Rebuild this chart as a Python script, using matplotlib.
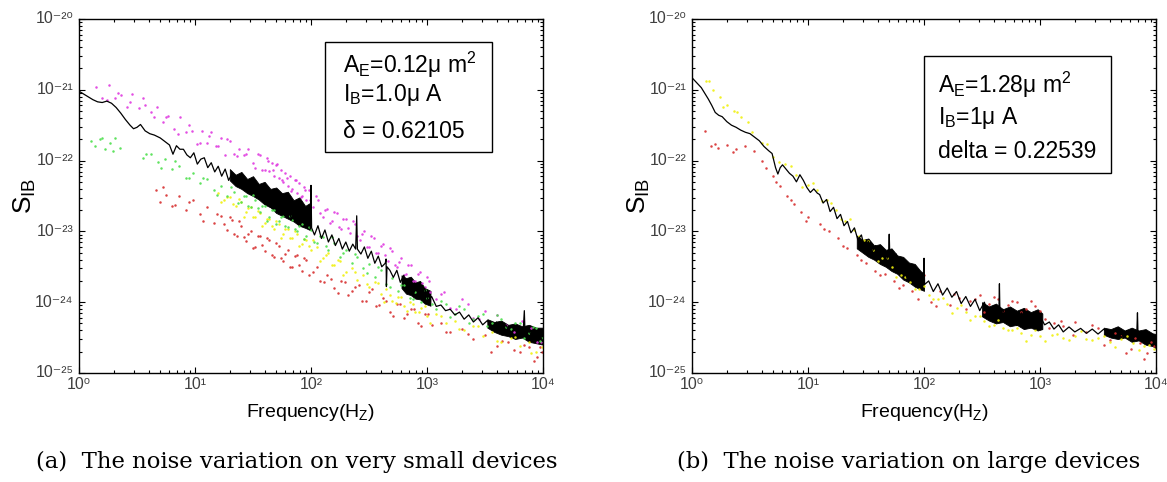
import matplotlib
matplotlib.use("Agg")
import matplotlib.pyplot as plt
import numpy as np
from matplotlib.patches import Rectangle
from matplotlib.ticker import LogLocator, NullFormatter, FuncFormatter

plt.rcParams["font.family"] = ["Liberation Sans", "DejaVu Sans"]
plt.rcParams["mathtext.fontset"] = "custom"
plt.rcParams["mathtext.rm"] = "Liberation Sans"
plt.rcParams["mathtext.it"] = "Liberation Sans:italic"

# values are log10(frequency) and log10(S_IB)

# ---- panel (a): very small device ----
a_line_lf = [0.00, 0.04, 0.08, 0.12, 0.16, 0.20, 0.24, 0.28, 0.32, 0.36, 0.40, 0.44, 0.47, 0.50, 0.53,
             0.57, 0.61, 0.65, 0.70, 0.74, 0.78, 0.81, 0.84, 0.87, 0.90, 0.93, 0.96, 0.99, 1.02, 1.05,
             1.08, 1.11, 1.14, 1.17, 1.20, 1.23, 1.26, 1.29, 1.32, 1.35, 1.38, 1.41, 1.44, 1.47, 1.50,
             1.53, 1.56, 1.59, 1.62, 1.65, 1.68, 1.71, 1.74, 1.77, 1.80, 1.83, 1.86, 1.89, 1.92, 1.95,
             1.98, 1.995, 2.000, 2.005, 2.03, 2.06, 2.09, 2.12, 2.15, 2.18, 2.21, 2.24, 2.27, 2.30, 2.33,
             2.36, 2.385, 2.394, 2.40, 2.43, 2.46, 2.49, 2.52, 2.55, 2.58, 2.61, 2.64, 2.647, 2.65, 2.655,
             2.68, 2.71, 2.74, 2.77, 2.80, 2.83, 2.86, 2.89, 2.92, 2.95, 2.98, 3.01, 3.04, 3.08, 3.12,
             3.16, 3.20, 3.24, 3.28, 3.32, 3.36, 3.40, 3.44, 3.48, 3.52, 3.56, 3.60, 3.64, 3.68, 3.72,
             3.76, 3.80, 3.83, 3.839, 3.845, 3.88, 3.92, 3.96, 4.00]
a_line_ls = [-21.02, -21.06, -21.10, -21.14, -21.17, -21.18, -21.16, -21.19, -21.25, -21.33, -21.42, -21.50, -21.55, -21.53, -21.49,
             -21.58, -21.62, -21.64, -21.68, -21.73, -21.78, -21.91, -21.79, -21.84, -21.84, -21.92, -21.96, -21.89, -22.05, -21.98,
             -21.96, -22.10, -22.03, -22.16, -22.08, -22.22, -22.12, -22.28, -22.18, -22.34, -22.22, -22.40, -22.27, -22.46, -22.31,
             -22.52, -22.38, -22.58, -22.42, -22.66, -22.47, -22.72, -22.52, -22.78, -22.58, -22.84, -22.64, -22.88, -22.70, -22.94,
             -22.78, -22.96, -22.35, -22.95, -23.05, -22.92, -23.10, -22.98, -23.15, -23.05, -23.20, -23.10, -23.25, -23.15, -23.28,
             -23.18, -23.25, -22.78, -23.25, -23.32, -23.22, -23.38, -23.28, -23.45, -23.35, -23.50, -23.45, -23.39, -23.78, -23.50,
             -23.55, -23.65, -23.55, -23.72, -23.62, -23.80, -23.68, -23.86, -23.74, -23.92, -23.80, -23.98, -23.92, -24.06, -24.04,
             -24.12, -24.10, -24.18, -24.14, -24.24, -24.18, -24.28, -24.22, -24.32, -24.26, -24.36, -24.28, -24.40, -24.32, -24.45,
             -24.35, -24.48, -24.38, -24.12, -24.45, -24.40, -24.56, -24.45, -24.55]

# dense parts of the black trace: upper and lower edge
a_band_lf = [[1.30, 1.35, 1.40, 1.45, 1.50, 1.55, 1.60, 1.65, 1.70, 1.75, 1.80, 1.85, 1.90, 1.95, 1.99],
             [2.78, 2.82, 2.86, 2.90, 2.94, 2.98, 3.03],
             [3.52, 3.58, 3.64, 3.70, 3.76, 3.82, 3.88, 3.94, 4.00]]
a_band_hi = [[-22.12, -22.20, -22.16, -22.26, -22.22, -22.33, -22.30, -22.40, -22.38, -22.46, -22.44, -22.56, -22.52, -22.64, -22.60],
             [-23.62, -23.66, -23.64, -23.72, -23.70, -23.80, -23.84],
             [-24.24, -24.28, -24.26, -24.32, -24.30, -24.34, -24.32, -24.36, -24.36]]
a_band_lo = [[-22.28, -22.36, -22.40, -22.46, -22.50, -22.55, -22.62, -22.66, -22.74, -22.78, -22.82, -22.86, -22.92, -22.95, -22.98],
             [-23.80, -23.88, -23.90, -23.95, -23.96, -24.02, -24.05],
             [-24.36, -24.42, -24.46, -24.48, -24.52, -24.50, -24.56, -24.58, -24.60]]

a_magenta_lf = [0.15, 0.20, 0.26, 0.31, 0.36, 0.41, 0.46, 0.52, 0.57, 0.62, 0.67, 0.72, 0.77, 0.82, 0.87, 0.92, 0.97,
                1.02, 1.06, 1.10, 1.14, 1.18, 1.22, 1.26, 1.30, 1.34, 1.38, 1.42, 1.46, 1.50, 1.54, 1.58, 1.62, 1.64,
                1.66, 1.68, 1.70, 1.72, 1.74, 1.76, 1.78, 1.80, 1.82, 1.84, 1.86, 1.88, 1.90, 1.92, 1.94, 1.96, 1.98,
                2.02, 2.06, 2.10, 2.14, 2.18, 2.22, 2.26, 2.30, 2.34, 2.38, 2.42, 2.46, 2.50, 2.54, 2.58, 2.62, 2.66,
                2.70, 2.74, 2.78, 2.82, 2.86, 2.90, 2.94, 2.98, 3.02, 3.08, 3.15, 3.25, 3.35, 3.45, 3.60, 3.75, 3.90, 3.98,
                0.24, 0.34, 0.44, 0.55, 0.65, 0.75, 0.85, 0.95, 1.04, 1.12, 1.20, 1.28, 1.36, 1.44, 1.52, 1.56, 1.60,
                1.63, 1.67, 1.71, 1.75, 1.79, 1.83, 1.87, 1.91, 1.95, 1.99, 2.04, 2.08, 2.12, 2.16, 2.20, 2.24, 2.28,
                2.32, 2.36, 2.40, 2.44, 2.48, 2.52, 2.56, 2.60, 2.64, 2.68, 2.72, 2.76, 2.80, 2.84, 2.88, 2.92, 2.96,
                3.00, 3.03, 3.12, 3.20, 3.30, 3.40, 3.50, 3.68, 3.82, 3.95]
a_magenta_ls = [-20.96, -21.12, -20.93, -21.11, -21.08, -21.24, -21.06, -21.26, -21.21, -21.32, -21.24, -21.46, -21.37, -21.56, -21.39, -21.60, -21.58,
                -21.76, -21.58, -21.75, -21.60, -21.79, -21.68, -21.92, -21.73, -21.91, -21.84, -21.92, -21.83, -22.04, -21.90, -22.14, -21.96, -22.15,
                -22.04, -22.22, -22.06, -22.24, -22.14, -22.30, -22.18, -22.36, -22.22, -22.40, -22.28, -22.46, -22.32, -22.50, -22.38, -22.55, -22.42,
                -22.66, -22.56, -22.80, -22.68, -22.86, -22.74, -22.96, -22.82, -23.02, -22.90, -23.12, -22.99, -23.22, -23.10, -23.30, -23.18, -23.42,
                -23.28, -23.50, -23.38, -23.60, -23.48, -23.70, -23.58, -23.78, -23.70, -23.95, -23.86, -24.10, -24.02, -24.24, -24.18, -24.42, -24.36, -24.56,
                -21.14, -21.04, -21.17, -21.12, -21.39, -21.39, -21.62, -21.50, -21.75, -21.65, -21.79, -21.70, -21.93, -21.90, -22.10, -21.92, -22.14,
                -22.01, -22.14, -22.05, -22.28, -22.24, -22.43, -22.28, -22.51, -22.41, -22.55, -22.50, -22.74, -22.70, -22.88, -22.72, -22.94, -22.83,
                -22.95, -22.85, -23.07, -23.03, -23.22, -23.07, -23.30, -23.20, -23.33, -23.24, -23.47, -23.43, -23.62, -23.47, -23.70, -23.60, -23.73,
                -23.64, -23.85, -23.88, -24.08, -23.96, -24.22, -24.13, -24.32, -24.26, -24.56]

a_green_lf = [0.10, 0.14, 0.18, 0.22, 0.27, 0.31, 0.35, 0.55, 0.62, 0.68, 0.74, 0.80, 0.86, 0.92, 0.98, 1.04, 1.10,
              1.16, 1.22, 1.28, 1.34, 1.40, 1.44, 1.48, 1.52, 1.56, 1.60, 1.64, 1.68, 1.72, 1.76, 1.80, 1.84, 1.88,
              1.92, 1.96, 2.00, 2.05, 2.10, 2.15, 2.20, 2.25, 2.30, 2.35, 2.40, 2.45, 2.50, 2.55, 2.60, 2.65, 2.70,
              2.75, 2.80, 2.85, 2.90, 2.95, 3.00, 3.08, 3.16, 3.24, 3.32, 3.40, 3.48, 3.56, 3.64, 3.72, 3.80, 3.88,
              3.94, 3.99,
              0.20, 0.29, 0.58, 0.71, 0.83, 0.95, 1.07, 1.19, 1.31, 1.37, 1.42, 1.46, 1.50, 1.54, 1.58, 1.62, 1.66,
              1.70, 1.74, 1.78, 1.82, 1.86, 1.90, 1.94, 1.98, 2.03, 2.08, 2.13, 2.18, 2.28, 2.38, 2.48, 2.58, 2.68,
              2.78, 2.88, 2.98, 3.04, 3.12, 3.20, 3.28, 3.36, 3.44, 3.52, 3.60, 3.68, 3.76, 3.84, 3.91, 3.97]
a_green_ls = [-21.72, -21.80, -21.70, -21.84, -21.75, -21.68, -21.82, -21.96, -21.90, -22.02, -21.98, -22.12, -22.08, -22.25, -22.18, -22.32, -22.26,
              -22.42, -22.36, -22.50, -22.44, -22.58, -22.50, -22.66, -22.56, -22.72, -22.64, -22.80, -22.70, -22.86, -22.78, -22.94, -22.84, -23.00,
              -22.90, -23.06, -22.98, -23.16, -23.08, -23.26, -23.16, -23.36, -23.26, -23.44, -23.36, -23.52, -23.46, -23.64, -23.54, -23.74, -23.66,
              -23.84, -23.76, -23.94, -23.86, -24.00, -23.94, -24.10, -24.02, -24.16, -24.10, -24.24, -24.16, -24.30, -24.24, -24.38, -24.30, -24.44,
              -24.36, -24.50,
              -21.68, -21.86, -21.91, -22.10, -22.01, -22.24, -22.24, -22.48, -22.38, -22.60, -22.50, -22.64, -22.48, -22.67, -22.64, -22.85, -22.70,
              -22.90, -22.79, -22.92, -22.78, -22.96, -22.92, -23.11, -22.94, -23.15, -23.06, -23.21, -23.08, -23.30, -23.32, -23.59, -23.50, -23.78,
              -23.76, -23.96, -23.83, -24.02, -23.99, -24.21, -24.06, -24.30, -24.19, -24.33, -24.18, -24.35, -24.30, -24.51, -24.35, -24.55]

a_yellow_lf = [1.20, 1.25, 1.30, 1.35, 1.40, 1.44, 1.48, 1.52, 1.56, 1.60, 1.64, 1.68, 1.72, 1.76, 1.80, 1.84, 1.88,
               1.92, 1.96, 2.00, 2.05, 2.10, 2.15, 2.20, 2.25, 2.30, 2.35, 2.40, 2.45, 2.50, 2.55, 2.60, 2.65, 2.70,
               2.75, 2.80, 2.85, 2.90, 2.95, 3.00, 3.08, 3.16, 3.24, 3.32, 3.40, 3.48, 3.56, 3.64, 3.72, 3.80, 3.88,
               3.94, 3.99,
               1.22, 1.28, 1.33, 1.38, 1.42, 1.46, 1.50, 1.54, 1.58, 1.62, 1.66, 1.70, 1.74, 1.78, 1.82, 1.86, 1.90,
               1.94, 1.98, 2.02, 2.08, 2.13, 2.18, 2.23, 2.28, 2.38, 2.48, 2.58, 2.63, 2.68, 2.73, 2.78, 2.83, 2.88,
               2.93, 2.98, 3.03, 3.12, 3.28, 3.44, 3.60, 3.76, 3.90]
a_yellow_ls = [-22.46, -22.56, -22.52, -22.64, -22.58, -22.72, -22.66, -22.80, -22.74, -22.88, -22.82, -22.96, -22.90, -23.04, -22.96, -23.10, -23.04,
               -23.18, -23.12, -23.26, -23.22, -23.38, -23.30, -23.48, -23.42, -23.58, -23.52, -23.68, -23.62, -23.78, -23.72, -23.88, -23.82, -23.98,
               -23.92, -24.06, -24.00, -24.14, -24.08, -24.20, -24.16, -24.30, -24.26, -24.40, -24.34, -24.48, -24.42, -24.56, -24.50, -24.62, -24.56,
               -24.70, -24.64,
               -22.59, -22.51, -22.62, -22.54, -22.79, -22.67, -22.80, -22.71, -22.92, -22.82, -22.93, -22.85, -23.10, -22.97, -23.09, -23.00, -23.21,
               -23.11, -23.21, -23.12, -23.42, -23.33, -23.47, -23.40, -23.62, -23.58, -23.75, -23.73, -24.00, -23.90, -24.01, -23.92, -24.13, -24.03,
               -24.14, -24.05, -24.30, -24.20, -24.38, -24.34, -24.55, -24.49, -24.72]

a_red_lf = [0.66, 0.70, 0.75, 0.80, 0.86, 0.92, 0.98, 1.04, 1.10, 1.16, 1.22, 1.28, 1.32, 1.36, 1.40, 1.44, 1.48,
            1.52, 1.56, 1.60, 1.64, 1.68, 1.72, 1.76, 1.80, 1.84, 1.88, 1.92, 1.96, 2.02, 2.08, 2.14, 2.20, 2.26,
            2.32, 2.38, 2.44, 2.50, 2.56, 2.62, 2.68, 2.74, 2.80, 2.86, 2.92, 2.98, 3.04, 3.12, 3.20, 3.30, 3.40,
            3.50, 3.60, 3.70, 3.80, 3.88, 3.95, 3.99,
            0.72, 0.83, 0.95, 1.07, 1.19, 1.25, 1.30, 1.34, 1.38, 1.42, 1.46, 1.50, 1.54, 1.58, 1.62, 1.66, 1.70,
            1.74, 1.78, 1.82, 1.86, 1.90, 1.94, 1.98, 2.05, 2.11, 2.17, 2.23, 2.29, 2.35, 2.41, 2.47, 2.53, 2.59,
            2.65, 2.71, 2.77, 2.83, 2.89, 2.95, 3.01, 3.16, 3.35, 3.55, 3.65, 3.75, 3.84, 3.92, 3.97]
a_red_ls = [-22.42, -22.58, -22.48, -22.64, -22.50, -22.70, -22.56, -22.76, -22.66, -22.88, -22.78, -22.98, -22.84, -23.06, -22.92, -23.14, -23.00,
            -23.22, -23.06, -23.28, -23.12, -23.36, -23.20, -23.42, -23.26, -23.50, -23.34, -23.56, -23.40, -23.58, -23.70, -23.62, -23.80, -23.70,
            -23.90, -23.78, -23.98, -23.86, -24.06, -23.94, -24.14, -24.02, -24.22, -24.10, -24.30, -24.16, -24.32, -24.30, -24.42, -24.38, -24.52,
            -24.46, -24.62, -24.56, -24.70, -24.64, -24.78, -24.70,
            -22.38, -22.63, -22.59, -22.85, -22.75, -22.89, -22.80, -23.03, -22.86, -23.08, -23.03, -23.23, -23.06, -23.19, -23.10, -23.33, -23.16,
            -23.38, -23.32, -23.51, -23.35, -23.47, -23.38, -23.61, -23.50, -23.72, -23.67, -23.87, -23.71, -23.84, -23.76, -23.99, -23.82, -24.04,
            -23.99, -24.19, -24.03, -24.17, -24.10, -24.33, -24.16, -24.42, -24.45, -24.71, -24.55, -24.68, -24.60, -24.83, -24.64]

# ---- panel (b): large device ----
b_line_lf = [0.00, 0.04, 0.08, 0.11, 0.14, 0.17, 0.20, 0.23, 0.26, 0.30, 0.34, 0.38, 0.42, 0.46, 0.50,
             0.54, 0.58, 0.62, 0.66, 0.69, 0.72, 0.74, 0.76, 0.78, 0.81, 0.84, 0.87, 0.90, 0.93, 0.96,
             0.99, 1.02, 1.05, 1.08, 1.10, 1.13, 1.16, 1.19, 1.22, 1.25, 1.28, 1.31, 1.34, 1.37, 1.40,
             1.43, 1.46, 1.49, 1.52, 1.55, 1.58, 1.61, 1.64, 1.67, 1.695, 1.70, 1.705, 1.73, 1.76, 1.79,
             1.82, 1.85, 1.88, 1.91, 1.94, 1.97, 1.995, 2.00, 2.005, 2.04, 2.08, 2.12, 2.16, 2.20, 2.24,
             2.28, 2.32, 2.36, 2.40, 2.44, 2.48, 2.52, 2.56, 2.60, 2.645, 2.65, 2.655, 2.68, 2.72, 2.76,
             2.80, 2.84, 2.88, 2.92, 2.96, 3.00, 3.04, 3.08, 3.12, 3.16, 3.20, 3.25, 3.30, 3.35, 3.40,
             3.45, 3.50, 3.55, 3.60, 3.65, 3.70, 3.75, 3.80, 3.835, 3.84, 3.845, 3.88, 3.92, 3.96, 4.00]
b_line_ls = [-20.83, -20.90, -20.97, -21.05, -21.13, -21.22, -21.32, -21.36, -21.38, -21.45, -21.50, -21.53, -21.57, -21.60, -21.62,
             -21.67, -21.72, -21.80, -21.86, -21.90, -22.10, -22.19, -22.10, -22.06, -22.12, -22.18, -22.22, -22.30, -22.20, -22.28,
             -22.38, -22.45, -22.40, -22.46, -22.48, -22.60, -22.55, -22.72, -22.66, -22.82, -22.76, -22.92, -22.86, -23.02, -22.95,
             -23.12, -23.05, -23.25, -23.14, -23.30, -23.20, -23.38, -23.25, -23.45, -23.30, -23.04, -23.35, -23.48, -23.32, -23.55,
             -23.42, -23.65, -23.50, -23.72, -23.58, -23.80, -23.62, -23.38, -23.75, -23.70, -23.85, -23.74, -23.90, -23.80, -23.93,
             -23.85, -24.02, -23.92, -24.06, -23.96, -24.12, -24.00, -24.20, -24.05, -24.15, -23.74, -24.22, -24.10, -24.30, -24.12,
             -24.33, -24.15, -24.36, -24.18, -24.38, -24.20, -24.32, -24.28, -24.38, -24.32, -24.42, -24.35, -24.42, -24.37, -24.44,
             -24.38, -24.45, -24.38, -24.48, -24.38, -24.50, -24.40, -24.52, -24.40, -24.15, -24.48, -24.42, -24.58, -24.45, -24.62]

b_band_lf = [[1.42, 1.47, 1.52, 1.57, 1.62, 1.67, 1.72, 1.77, 1.82, 1.87, 1.92, 1.97, 2.00],
             [2.50, 2.56, 2.62, 2.68, 2.74, 2.80, 2.86, 2.92, 2.98, 3.02],
             [3.55, 3.61, 3.67, 3.73, 3.79, 3.85, 3.91, 3.97, 4.00]]
b_band_hi = [[-23.06, -23.12, -23.10, -23.20, -23.18, -23.26, -23.24, -23.34, -23.36, -23.44, -23.46, -23.56, -23.60],
             [-24.00, -24.06, -24.02, -24.10, -24.06, -24.12, -24.08, -24.14, -24.10, -24.16],
             [-24.36, -24.38, -24.34, -24.40, -24.36, -24.40, -24.38, -24.44, -24.45]]
b_band_lo = [[-23.24, -23.30, -23.36, -23.40, -23.46, -23.50, -23.56, -23.60, -23.68, -23.72, -23.78, -23.82, -23.84],
             [-24.20, -24.26, -24.30, -24.28, -24.34, -24.32, -24.38, -24.36, -24.40, -24.38],
             [-24.46, -24.50, -24.52, -24.50, -24.56, -24.54, -24.60, -24.62, -24.65]]

b_yellow_lf = [0.12, 0.18, 0.24, 0.30, 0.36, 0.42, 0.48, 0.60, 0.70, 0.80, 0.90, 1.00, 1.08, 1.16, 1.24, 1.32,
               1.40, 1.48, 1.56, 1.64, 1.72, 1.80, 1.88, 1.96, 2.04, 2.12, 2.20, 2.28, 2.36, 2.44, 2.52, 2.60,
               2.68, 2.76, 2.84, 2.92, 3.00, 3.10, 3.20, 3.30, 3.40, 3.50, 3.60, 3.70, 3.80, 3.90, 3.98,
               0.15, 0.27, 0.39, 0.52, 0.65, 0.75, 0.85, 0.95, 1.04, 1.12, 1.20, 1.28, 1.36, 1.44, 1.52, 1.60,
               1.68, 1.76, 1.84, 1.92, 2.00, 2.08, 2.16, 2.24, 2.32, 2.40, 2.48, 2.56, 2.64, 2.72, 2.80, 2.88,
               2.96, 3.04, 3.15, 3.25, 3.35, 3.45, 3.55, 3.65, 3.75, 3.85, 3.94]
b_yellow_ls = [-20.88, -21.00, -21.10, -21.22, -21.30, -21.38, -21.45, -21.75, -21.95, -22.05, -22.20, -22.34, -22.42, -22.56, -22.70, -22.86,
               -22.98, -23.12, -23.26, -23.38, -23.50, -23.62, -23.72, -23.82, -23.90, -23.96, -24.02, -24.08, -24.14, -24.20, -24.26, -24.32,
               -24.36, -24.40, -24.44, -24.46, -24.48, -24.46, -24.50, -24.48, -24.52, -24.50, -24.56, -24.52, -24.58, -24.62, -24.66,
               -20.88, -21.24, -21.31, -21.60, -21.76, -22.02, -22.07, -22.37, -22.31, -22.57, -22.60, -22.83, -22.83, -23.07, -23.14, -23.42,
               -23.37, -23.64, -23.64, -23.82, -23.77, -23.95, -23.94, -24.15, -24.04, -24.25, -24.20, -24.34, -24.25, -24.40, -24.37, -24.55,
               -24.40, -24.55, -24.45, -24.54, -24.41, -24.53, -24.48, -24.64, -24.48, -24.68, -24.61]

b_red_lf = [0.11, 0.16, 0.22, 0.30, 0.38, 0.46, 0.53, 0.64, 0.70, 0.76, 0.82, 0.88, 0.94, 1.00, 1.10, 1.18, 1.26,
            1.34, 1.42, 1.50, 1.58, 1.66, 1.74, 1.82, 1.90, 2.00, 2.06, 2.14, 2.22, 2.30, 2.40, 2.48, 2.56, 2.64,
            2.72, 2.80, 2.88, 2.96, 3.04, 3.12, 3.20, 3.30, 3.40, 3.50, 3.60, 3.70, 3.78, 3.86, 3.92, 3.98,
            0.20, 0.35, 0.60, 0.72, 0.85, 0.98, 1.14, 1.30, 1.46, 1.62, 1.78, 1.95, 2.10, 2.26, 2.36, 2.44, 2.52,
            2.60, 2.68, 2.76, 2.84, 2.92, 3.00, 3.08, 3.18, 3.28, 3.45, 3.55, 3.65, 3.74, 3.82, 3.90, 3.96]
b_red_ls = [-21.58, -21.80, -21.82, -21.78, -21.84, -21.80, -21.86, -22.10, -22.22, -22.36, -22.50, -22.62, -22.72, -22.80, -22.90, -23.00, -23.10,
            -23.24, -23.34, -23.44, -23.56, -23.60, -23.70, -23.76, -23.84, -23.62, -24.00, -23.84, -24.04, -23.94, -23.98, -23.90, -24.02, -23.96,
            -24.04, -24.00, -24.10, -24.06, -24.24, -24.30, -24.34, -24.28, -24.42, -24.36, -24.54, -24.48, -24.66, -24.58, -24.72, -24.62,
            -21.76, -21.88, -22.00, -22.30, -22.56, -22.86, -22.96, -23.20, -23.40, -23.62, -23.80, -23.96, -24.06, -23.88, -24.10, -23.96, -24.14,
            -23.92, -24.12, -23.98, -24.14, -23.98, -24.12, -24.36, -24.26, -24.46, -24.32, -24.60, -24.44, -24.72, -24.50, -24.80, -24.56]

a_box_lines = [r"A$_\mathregular{E}$=0.12μ m$^\mathregular{2}$", r"I$_\mathregular{B}$=1.0μ A", "δ = 0.62105"]
b_box_lines = [r"A$_\mathregular{E}$=1.28μ m$^\mathregular{2}$", r"I$_\mathregular{B}$=1μ A", "delta = 0.22539"]
captions = ["(a)  The noise variation on very small devices", "(b)  The noise variation on large devices"]

SUP = str.maketrans("-0123456789", "⁻⁰¹²³⁴⁵⁶⁷⁸⁹")


def pw(v):
    return 10.0 ** np.asarray(v)


def pow_label(v, pos):
    return "10" + str(int(round(np.log10(v)))).translate(SUP)


def dots(ax, lf, ls, color):
    ax.plot(pw(lf), pw(ls), "o", ms=1.8, mec="none", mfc=color, alpha=0.9)


def setup(ax):
    ax.set_xscale("log")
    ax.set_yscale("log")
    ax.set_xlim(1, 1e4)
    ax.set_ylim(1e-25, 1e-20)
    ax.xaxis.set_major_locator(LogLocator(base=10, numticks=10))
    ax.yaxis.set_major_locator(LogLocator(base=10, numticks=10))
    ax.xaxis.set_minor_locator(LogLocator(base=10, subs=np.arange(2, 10), numticks=20))
    ax.yaxis.set_minor_locator(LogLocator(base=10, subs=np.arange(2, 10), numticks=20))
    ax.xaxis.set_major_formatter(FuncFormatter(pow_label))
    ax.yaxis.set_major_formatter(FuncFormatter(pow_label))
    ax.xaxis.set_minor_formatter(NullFormatter())
    ax.yaxis.set_minor_formatter(NullFormatter())
    ax.tick_params(which="both", direction="in", top=True, right=True, labelsize=11.5,
                   labelcolor="#404040", width=0.8)
    ax.tick_params(which="major", length=4.5)
    ax.tick_params(which="minor", length=2.5)
    ax.tick_params(axis="x", pad=3)
    ax.tick_params(axis="y", pad=4)
    for s in ax.spines.values():
        s.set_linewidth(1.0)
    ax.set_xlabel(r"Frequency(H$_\mathregular{Z}$)", fontsize=14, labelpad=7)
    ax.set_ylabel(r"S$_\mathregular{IB}$", fontsize=19)


fig = plt.figure(figsize=(11.67, 4.82), dpi=100)
ax_a = fig.add_axes([0.0677, 0.2262, 0.3976, 0.7344])
ax_b = fig.add_axes([0.5930, 0.2262, 0.3976, 0.7344])

panels = [
    (ax_a, [(a_magenta_lf, a_magenta_ls, "#e03ae0"), (a_red_lf, a_red_ls, "#d83030"),
            (a_yellow_lf, a_yellow_ls, "#f0f010"), (a_green_lf, a_green_ls, "#4ee04e")],
     a_band_lf, a_band_hi, a_band_lo, a_line_lf, a_line_ls,
     a_box_lines, (0.53, 0.624, 0.36, 0.311), 0.569, [0.847, 0.768, 0.664], -0.088),
    (ax_b, [(b_red_lf, b_red_ls, "#d83030"), (b_yellow_lf, b_yellow_ls, "#f0f010")],
     b_band_lf, b_band_hi, b_band_lo, b_line_lf, b_line_ls,
     b_box_lines, (0.50, 0.565, 0.403, 0.330), 0.530, [0.791, 0.703, 0.607], -0.086),
]

for ax, clouds, blf, bhi, blo, llf, lls, box_lines, rect, tx, tys, ylx in panels:
    setup(ax)
    for lf, ls, c in clouds:
        dots(ax, lf, ls, c)
    for f, hi, lo in zip(blf, bhi, blo):
        ax.fill_between(pw(f), pw(lo), pw(hi), color="black", lw=0.6, edgecolor="black")
    ax.plot(pw(llf), pw(lls), color="black", lw=0.9)
    ax.add_patch(Rectangle(rect[:2], rect[2], rect[3], transform=ax.transAxes,
                           fill=True, facecolor="white", edgecolor="black", lw=1.0, zorder=5))
    for t, y in zip(box_lines, tys):
        ax.text(tx, y, t, transform=ax.transAxes, fontsize=16.5, va="baseline", ha="left", zorder=6)
    ax.yaxis.set_label_coords(ylx, 0.5)
    for lab in ax.get_yticklabels():
        lab.set_va("center")

fig.text(0.254, 0.041, captions[0], ha="center", va="center", fontsize=16.4, family="DejaVu Serif")
fig.text(0.779, 0.041, captions[1], ha="center", va="center", fontsize=16.4, family="DejaVu Serif")

fig.savefig("out.png", dpi=100)
